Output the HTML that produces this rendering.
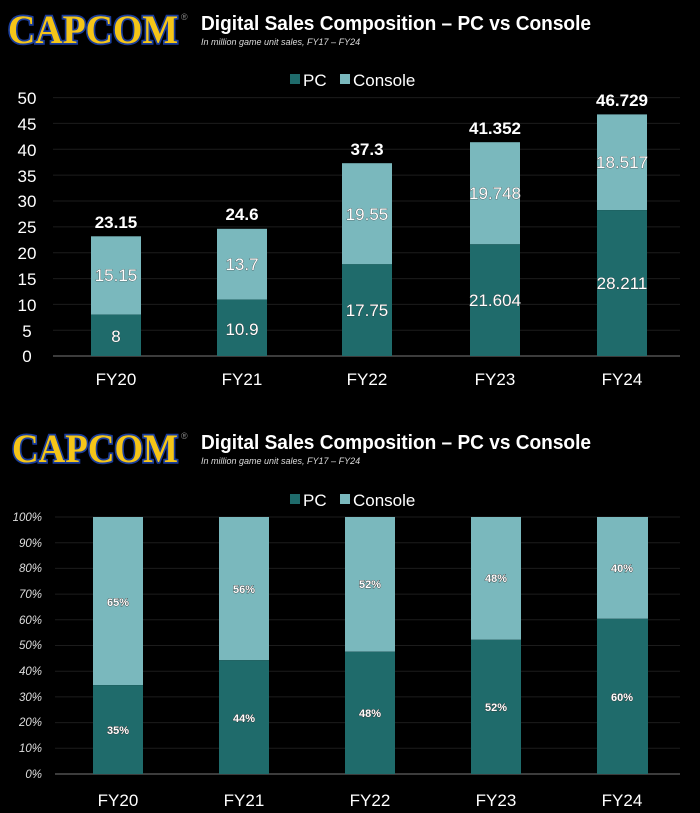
<!DOCTYPE html>
<html><head><meta charset="utf-8"><style>
body{margin:0;background:#000;width:700px;height:813px;overflow:hidden}
svg{display:block}
text{font-family:"Liberation Sans",sans-serif}
text.logo{font-family:"Liberation Serif",serif}
</style></head><body>
<svg width="700" height="813" viewBox="0 0 700 813">
<rect width="700" height="813" fill="#000"/>
<g>
<text class="logo" x="8" y="43" font-weight="bold" font-size="40" fill="#f5c518" stroke="#1a3d9c" stroke-width="3.5" paint-order="stroke" textLength="170" lengthAdjust="spacingAndGlyphs">CAPCOM</text>
<text x="181" y="20" font-size="9" fill="#888">®</text>
<text x="201" y="30" font-size="20" font-weight="bold" fill="#fff" textLength="390" lengthAdjust="spacingAndGlyphs">Digital Sales Composition – PC vs Console</text>
<text x="201" y="45" font-size="9" font-style="italic" fill="#ddd">In million game unit sales, FY17 – FY24</text>
</g>
<g>
<rect x="290" y="74" width="10" height="10" fill="#1f6b6b"/><text x="303" y="86" font-size="17" fill="#fff">PC</text>
<rect x="340" y="74" width="10" height="10" fill="#7ab8bd"/><text x="353" y="86" font-size="17" fill="#fff">Console</text>
</g>
<g stroke="#1c1c1c" stroke-width="1">
<line x1="53" x2="680" y1="97.6" y2="97.6"/><line x1="53" x2="680" y1="123.4" y2="123.4"/><line x1="53" x2="680" y1="149.3" y2="149.3"/><line x1="53" x2="680" y1="175.1" y2="175.1"/><line x1="53" x2="680" y1="201" y2="201"/><line x1="53" x2="680" y1="226.9" y2="226.9"/><line x1="53" x2="680" y1="252.7" y2="252.7"/><line x1="53" x2="680" y1="278.6" y2="278.6"/><line x1="53" x2="680" y1="304.4" y2="304.4"/><line x1="53" x2="680" y1="330.3" y2="330.3"/>
</g>
<line x1="53" x2="680" y1="356" y2="356" stroke="#777"/>
<g font-size="17" fill="#fff" text-anchor="middle">
<text x="27" y="104">50</text><text x="27" y="130">45</text><text x="27" y="156">40</text><text x="27" y="182">35</text><text x="27" y="207">30</text><text x="27" y="233">25</text><text x="27" y="259">20</text><text x="27" y="285">15</text><text x="27" y="311">10</text><text x="27" y="337">5</text><text x="27" y="362">0</text>
</g>
<g>
<rect x="91" y="236.3" width="50" height="78.3" fill="#7ab8bd"/><rect x="91" y="314.6" width="50" height="41.4" fill="#1f6b6b"/>
<rect x="217" y="228.8" width="50" height="70.8" fill="#7ab8bd"/><rect x="217" y="299.6" width="50" height="56.4" fill="#1f6b6b"/>
<rect x="342" y="163.2" width="50" height="101.1" fill="#7ab8bd"/><rect x="342" y="264.2" width="50" height="91.8" fill="#1f6b6b"/>
<rect x="470" y="142.2" width="50" height="102.1" fill="#7ab8bd"/><rect x="470" y="244.3" width="50" height="111.7" fill="#1f6b6b"/>
<rect x="597" y="114.4" width="50" height="95.7" fill="#7ab8bd"/><rect x="597" y="210.1" width="50" height="145.9" fill="#1f6b6b"/>
</g>
<g font-size="17" fill="#fff" text-anchor="middle" stroke="#333" stroke-width="0.6" paint-order="stroke">
<text x="116" y="281">15.15</text><text x="116" y="342">8</text>
<text x="242" y="270">13.7</text><text x="242" y="335">10.9</text>
<text x="367" y="220">19.55</text><text x="367" y="316">17.75</text>
<text x="495" y="199">19.748</text><text x="495" y="306">21.604</text>
<text x="622" y="168">18.517</text><text x="622" y="289">28.211</text>
</g>
<g font-size="17" font-weight="bold" fill="#fff" text-anchor="middle">
<text x="116" y="228">23.15</text><text x="242" y="220">24.6</text><text x="367" y="155">37.3</text><text x="495" y="134">41.352</text><text x="622" y="106">46.729</text>
</g>
<g font-size="17" fill="#fff" text-anchor="middle">
<text x="116" y="385">FY20</text><text x="242" y="385">FY21</text><text x="367" y="385">FY22</text><text x="495" y="385">FY23</text><text x="622" y="385">FY24</text>
</g>

<g>
<text class="logo" x="12" y="462" font-weight="bold" font-size="40" fill="#f5c518" stroke="#1a3d9c" stroke-width="3.5" paint-order="stroke" textLength="166" lengthAdjust="spacingAndGlyphs">CAPCOM</text>
<text x="181" y="439" font-size="9" fill="#888">®</text>
<text x="201" y="449" font-size="20" font-weight="bold" fill="#fff" textLength="390" lengthAdjust="spacingAndGlyphs">Digital Sales Composition – PC vs Console</text>
<text x="201" y="464" font-size="9" font-style="italic" fill="#ddd">In million game unit sales, FY17 – FY24</text>
</g>
<g>
<rect x="290" y="494" width="10" height="10" fill="#1f6b6b"/><text x="303" y="506" font-size="17" fill="#fff">PC</text>
<rect x="340" y="494" width="10" height="10" fill="#7ab8bd"/><text x="353" y="506" font-size="17" fill="#fff">Console</text>
</g>
<g stroke="#1c1c1c">
<line x1="55" x2="680" y1="517" y2="517"/><line x1="55" x2="680" y1="542.7" y2="542.7"/><line x1="55" x2="680" y1="568.4" y2="568.4"/><line x1="55" x2="680" y1="594.1" y2="594.1"/><line x1="55" x2="680" y1="619.8" y2="619.8"/><line x1="55" x2="680" y1="645.5" y2="645.5"/><line x1="55" x2="680" y1="671.2" y2="671.2"/><line x1="55" x2="680" y1="696.9" y2="696.9"/><line x1="55" x2="680" y1="722.6" y2="722.6"/><line x1="55" x2="680" y1="748.3" y2="748.3"/>
</g>
<line x1="55" x2="680" y1="774" y2="774" stroke="#777"/>
<g font-size="11.5" font-style="italic" fill="#ddd" text-anchor="end">
<text x="42" y="521">100%</text><text x="42" y="547">90%</text><text x="42" y="572">80%</text><text x="42" y="598">70%</text><text x="42" y="624">60%</text><text x="42" y="649">50%</text><text x="42" y="675">40%</text><text x="42" y="701">30%</text><text x="42" y="726">20%</text><text x="42" y="752">10%</text><text x="42" y="778">0%</text>
</g>
<g>
<rect x="93" y="517" width="50" height="168.1" fill="#7ab8bd"/><rect x="93" y="685.1" width="50" height="88.9" fill="#1f6b6b"/>
<rect x="219" y="517" width="50" height="143.2" fill="#7ab8bd"/><rect x="219" y="660.2" width="50" height="113.8" fill="#1f6b6b"/>
<rect x="345" y="517" width="50" height="134.7" fill="#7ab8bd"/><rect x="345" y="651.7" width="50" height="122.3" fill="#1f6b6b"/>
<rect x="471" y="517" width="50" height="122.8" fill="#7ab8bd"/><rect x="471" y="639.8" width="50" height="134.2" fill="#1f6b6b"/>
<rect x="597" y="517" width="51" height="101.8" fill="#7ab8bd"/><rect x="597" y="618.8" width="51" height="155.2" fill="#1f6b6b"/>
</g>
<g font-size="11" font-weight="bold" fill="#fff" text-anchor="middle" stroke="#333" stroke-width="0.8" paint-order="stroke">
<text x="118" y="606">65%</text><text x="118" y="734">35%</text>
<text x="244" y="593">56%</text><text x="244" y="722">44%</text>
<text x="370" y="588">52%</text><text x="370" y="717">48%</text>
<text x="496" y="582">48%</text><text x="496" y="711">52%</text>
<text x="622" y="572">40%</text><text x="622" y="701">60%</text>
</g>
<g font-size="17" fill="#fff" text-anchor="middle">
<text x="118" y="806">FY20</text><text x="244" y="806">FY21</text><text x="370" y="806">FY22</text><text x="496" y="806">FY23</text><text x="622" y="806">FY24</text>
</g>
</svg>
</body></html>
